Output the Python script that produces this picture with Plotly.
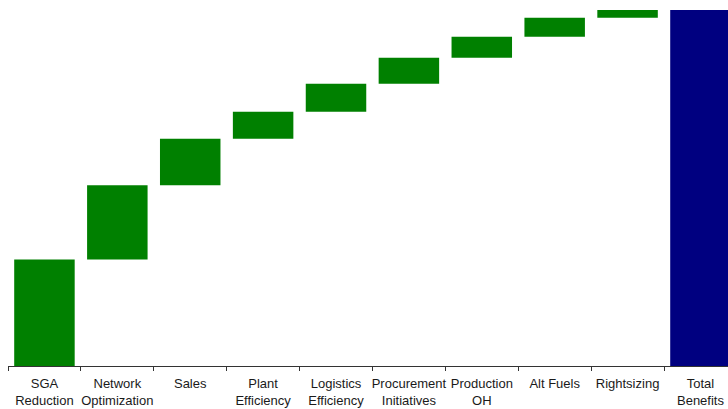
import plotly.graph_objects as go

categories = ["SGA<br>Reduction", "Network<br>Optimization", "Sales", "Plant<br>Efficiency",
              "Logistics<br>Efficiency", "Procurement<br>Initiatives", "Production<br>OH",
              "Alt Fuels", "Rightsizing", "Total<br>Benefits"]
values = [29.9, 20.9, 13.0, 7.6, 7.9, 7.3, 5.9, 5.3, 2.2, 0]
measures = ["relative"] * 9 + ["total"]

W, H = 728, 409
left = 8
cat_w = 72.89
plot_w = W - left
x_end = -0.5 + plot_w / cat_w

zero_px = 366.5
top_px = 10
total = sum(values)
y_max = total * zero_px / (zero_px - top_px)

fig = go.Figure(go.Waterfall(
    x=categories,
    y=values,
    measure=measures,
    width=0.83,
    increasing=dict(marker=dict(color="#008000")),
    decreasing=dict(marker=dict(color="#008000")),
    totals=dict(marker=dict(color="#000080")),
    connector=dict(visible=False),
    hoverinfo="x+y",
))

fig.update_layout(
    width=W, height=H,
    margin=dict(l=left, r=0, t=0, b=H - zero_px, autoexpand=False),
    paper_bgcolor="white", plot_bgcolor="white",
    showlegend=False,
    font=dict(family="Liberation Sans, Arial, sans-serif", size=13, color="#1a1a1a"),
    xaxis=dict(
        range=[-0.5, x_end],
        automargin=False,
        tickangle=0,
        ticklabelstandoff=5,
        showline=True, linecolor="#333333", linewidth=1,
        ticks="outside", ticklen=4, tickcolor="#333333",
        tickson="boundaries",
        showgrid=False, zeroline=False,
        tickfont=dict(size=13, color="#1a1a1a"),
    ),
    yaxis=dict(
        range=[0, y_max],
        visible=False, showgrid=False, zeroline=False,
        automargin=False,
    ),
)

fig.write_html("out.html")
